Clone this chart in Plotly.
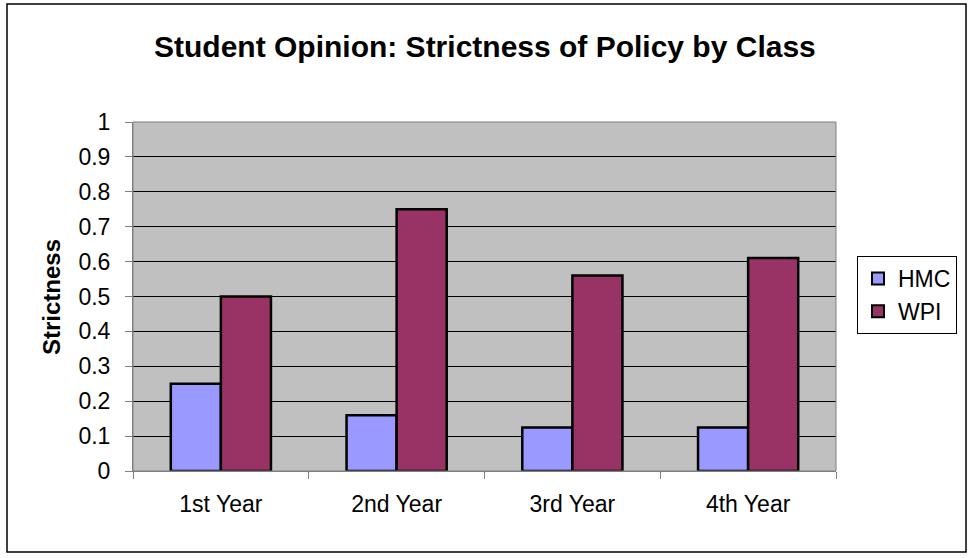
import plotly.graph_objects as go

categories = ["1st Year", "2nd Year", "3rd Year", "4th Year"]
hmc_values = [0.25, 0.16, 0.125, 0.125]
wpi_values = [0.5, 0.75, 0.56, 0.61]
y_ticks = [0, 0.1, 0.2, 0.3, 0.4, 0.5, 0.6, 0.7, 0.8, 0.9, 1]
y_ticklabels = ["0", "0.1", "0.2", "0.3", "0.4", "0.5", "0.6", "0.7", "0.8", "0.9", "1"]

W, H = 969, 558
L, R, T, B = 133, 836, 122, 471
pw, ph = R - L, B - T

def px(x):
    return (x - L) / pw

def py(y):
    return (B - y) / ph

FONT = "Liberation Sans, Arial, sans-serif"

fig = go.Figure()
fig.add_trace(go.Bar(name="HMC", x=categories, y=hmc_values,
                     marker=dict(color="#9999FF", line=dict(color="black", width=2.5))))
fig.add_trace(go.Bar(name="WPI", x=categories, y=wpi_values,
                     marker=dict(color="#993366", line=dict(color="black", width=2.5))))

fig.update_layout(
    width=W, height=H,
    margin=dict(l=L, r=W - R, t=T, b=H - B, pad=0),
    paper_bgcolor="white",
    plot_bgcolor="#C0C0C0",
    barmode="group",
    bargap=0.43,
    bargroupgap=0,
    font=dict(family=FONT, color="black", size=23),
    showlegend=True,
    legend=dict(
        x=px(857), y=py(256), xanchor="left", yanchor="top",
        bgcolor="white", bordercolor="black", borderwidth=1,
        font=dict(size=23, family=FONT),
        itemsizing="constant", tracegroupgap=0, itemwidth=30,
    ),
    xaxis=dict(
        showgrid=False, ticks="outside", tickson="boundaries", ticklen=7,
        tickcolor="#808080", showline=True, linecolor="#808080", linewidth=1,
        tickfont=dict(size=23), zeroline=False, ticklabelstandoff=12,
    ),
    yaxis=dict(
        range=[0, 1], tickvals=y_ticks, ticktext=y_ticklabels,
        showgrid=True, gridcolor="black", gridwidth=1,
        ticks="outside", ticklen=7, tickcolor="#808080",
        showline=True, linecolor="#808080", linewidth=1,
        tickfont=dict(size=23), zeroline=False, ticklabelstandoff=10,
    ),
    annotations=[
        dict(text="<b>Student Opinion: Strictness of Policy by Class</b>",
             xref="paper", yref="paper", x=px(485), y=py(46),
             xanchor="center", yanchor="middle", showarrow=False,
             font=dict(size=30, family=FONT)),
        dict(text="<b>Strictness</b>", textangle=-90,
             xref="paper", yref="paper", x=px(51), y=py(297),
             xanchor="center", yanchor="middle", showarrow=False,
             font=dict(size=24, family=FONT)),
    ],
    shapes=[
        dict(type="rect", xref="paper", yref="paper",
             x0=px(7), x1=px(966), y0=py(552), y1=py(4),
             line=dict(color="black", width=1.5), fillcolor="rgba(0,0,0,0)", layer="below"),
        dict(type="rect", xref="paper", yref="paper",
             x0=0, x1=1, y0=0, y1=1,
             line=dict(color="#808080", width=1), fillcolor="rgba(0,0,0,0)", layer="above"),
    ],
)

fig.write_html("out.html")
